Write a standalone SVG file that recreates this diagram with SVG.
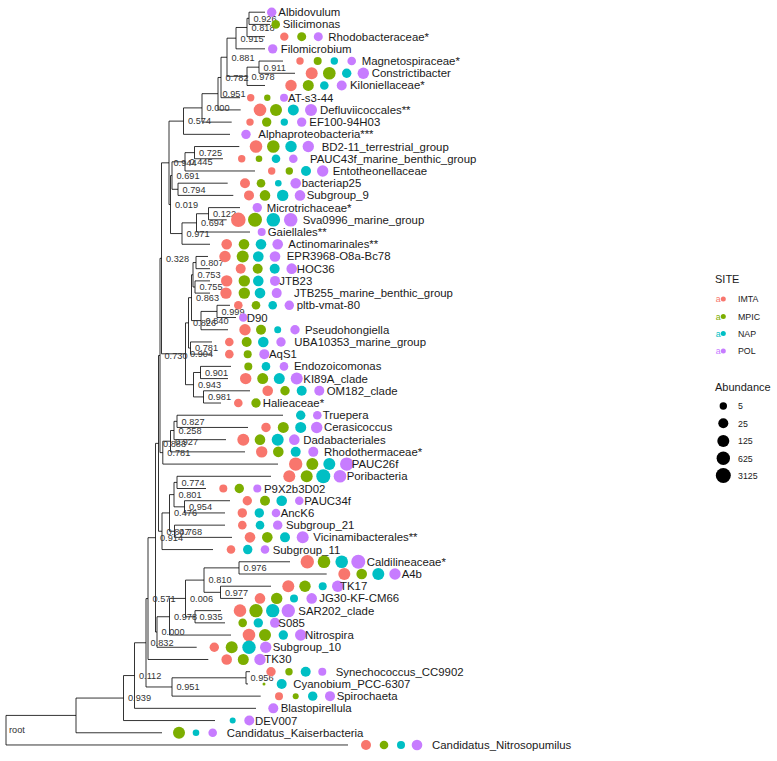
<svg xmlns="http://www.w3.org/2000/svg" width="777" height="761" viewBox="0 0 777 761">
<style>
text{font-family:"Liberation Sans",Arial,sans-serif}
.tl{font-size:11.4px;fill:#1a1a1a}
.nl{font-size:9.2px;fill:#333}
.lg{font-size:8.8px;fill:#1a1a1a}
.lt{font-size:11px;fill:#1a1a1a}
.i{fill:#F8766D}.m{fill:#7CAE00}.n{fill:#00BFC4}.p{fill:#C77CFF}
.k{fill:#000}
#connectors path{fill:none;stroke:#000;stroke-width:0.8}
</style>
<rect width="777" height="761" fill="#fff"/>
<g id="connectors">
<path d="M265 12.2H249V24.41H270 M249 18.3H247V36.63H265 M247 27.47H236V48.84H265 M283 61.05H259V73.27H295 M259 67.16H247V85.48H265 M236 38.16H227V76.32H247 M227 57.24H221V97.69H240 M221 77.47H218V109.9H240.7 M218 93.68H202V122.12H231.7 M202 107.9H183.5V134.33H230 M239.3 146.54H194.5V158.76H223 M194.5 152.65H185V170.97H255 M227.7 183.18H178V195.4H233.3 M185 161.81H172V189.29H178 M240 207.61H208.5V219.82H226.7 M208.5 213.72H196.5V232.03H250 M196.5 222.87H182V244.25H210 M172 175.55H170.5V233.56H182 M183.5 121.12H169V204.56H170.5 M208 256.46H196V268.67H210 M210 280.89H195V293.1H210 M196 262.57H193V287H195 M230 305.31H217V317.53H236 M217 311.42H201V329.74H228 M193 274.78H191.5V320.58H201 M212 341.95H190.5V354.16H212 M191.5 297.68H188.5V348.06H190.5 M231 366.38H200.5V378.59H228 M250 390.8H203.5V403.02H221 M200.5 372.49H193.5V396.91H203.5 M188.5 322.87H185.5V384.7H193.5 M169 162.84H161.5V353.79H185.5 M283 415.23H177V427.44H248 M177 421.34H174V439.66H226 M174 430.5H170.5V451.87H245 M170.5 441.19H162.8V464.08H278 M161.5 258.31H160V452.63H162.8 M271 476.29H177V488.51H206 M230 500.72H184.5V512.93H225 M177 482.4H174V506.83H184.5 M225 525.15H174.5V537.36H232 M174 494.61H169.5V531.26H174.5 M169.5 512.93H162V549.57H213 M160 355.47H158.5V531.25H162 M290 561.78H239V574H326.7 M271 586.21H220.5V598.42H243 M239 567.89H204V592.32H220.5 M221 610.64H195V622.85H225 M204 580.1H185.5V616.74H195 M185.5 598.42H169.5V635.06H231 M169.5 616.74H157V647.28H196.7 M158.5 443.36H155.5V632.01H157 M155.5 537.69H148V659.49H208.3 M250 671.7H246V683.92H248 M246 677.81H172V696.13H260.7 M148 598.59H146V686.97H172 M146 642.78H134.5V708.34H256 M134.5 675.56H123.5V720.55H215 M123.5 698.06H76V732.77H162 M76 715.41H6V744.98H348"/>
</g>
<g id="node-labels">
<text id="nl-root" class="nl" x="9" y="733.3">root</text>
<text id="nl1" class="nl" x="253.5" y="21.6">0.926</text>
<text id="nl2" class="nl" x="251.5" y="30.8">0.818</text>
<text id="nl3" class="nl" x="240.5" y="41.5">0.915</text>
<text id="nl4" class="nl" x="263.5" y="70.5">0.911</text>
<text id="nl5" class="nl" x="251.5" y="79.6">0.978</text>
<text id="nl6" class="nl" x="231.5" y="60.5">0.881</text>
<text id="nl7" class="nl" x="225.5" y="80.8">0.782</text>
<text id="nl8" class="nl" x="222.5" y="97">0.951</text>
<text id="nl9" class="nl" x="206.5" y="111.2">0.000</text>
<text id="nl10" class="nl" x="188" y="124.4">0.574</text>
<text id="nl11" class="nl" x="199" y="156">0.725</text>
<text id="nl12" class="nl" x="189.5" y="165.1">0.445</text>
<text id="nl13" class="nl" x="182.5" y="192.6">0.794</text>
<text id="nl14" class="nl" x="176.5" y="178.9">0.691</text>
<text id="nl15" class="nl" x="213" y="217">0.122</text>
<text id="nl16" class="nl" x="201" y="226.2">0.694</text>
<text id="nl17" class="nl" x="186.5" y="236.9">0.971</text>
<text id="nl18" class="nl" x="175" y="207.9">0.019</text>
<text id="nl19" class="nl" x="173.5" y="166.1">0.944</text>
<text id="nl20" class="nl" x="200.5" y="265.9">0.807</text>
<text id="nl21" class="nl" x="199.5" y="290.3">0.755</text>
<text id="nl22" class="nl" x="197.5" y="278.1">0.753</text>
<text id="nl23" class="nl" x="221.5" y="314.7">0.999</text>
<text id="nl24" class="nl" x="205.5" y="323.9">0.840</text>
<text id="nl25" class="nl" x="196" y="301">0.863</text>
<text id="nl26" class="nl" x="195" y="351.4">0.781</text>
<text id="nl27" class="nl" x="193" y="326.2">0.826</text>
<text id="nl28" class="nl" x="205" y="375.8">0.901</text>
<text id="nl29" class="nl" x="208" y="400.2">0.981</text>
<text id="nl30" class="nl" x="198" y="388">0.943</text>
<text id="nl31" class="nl" x="190" y="357.1">0.904</text>
<text id="nl32" class="nl" x="166" y="261.6">0.328</text>
<text id="nl33" class="nl" x="181.5" y="424.6">0.827</text>
<text id="nl34" class="nl" x="178.5" y="433.8">0.258</text>
<text id="nl35" class="nl" x="175" y="444.5">0.927</text>
<text id="nl36" class="nl" x="167.3" y="455.9">0.781</text>
<text id="nl37" class="nl" x="164.5" y="358.8">0.730</text>
<text id="nl38" class="nl" x="181.5" y="485.7">0.774</text>
<text id="nl39" class="nl" x="189" y="510.1">0.954</text>
<text id="nl40" class="nl" x="178.5" y="497.9">0.801</text>
<text id="nl41" class="nl" x="179" y="534.6">0.768</text>
<text id="nl42" class="nl" x="174" y="516.2">0.476</text>
<text id="nl43" class="nl" x="166.5" y="534.6">0.847</text>
<text id="nl44" class="nl" x="163" y="446.7">0.888</text>
<text id="nl45" class="nl" x="243.5" y="571.2">0.976</text>
<text id="nl46" class="nl" x="225" y="595.6">0.977</text>
<text id="nl47" class="nl" x="208.5" y="583.4">0.810</text>
<text id="nl48" class="nl" x="199.5" y="620">0.935</text>
<text id="nl49" class="nl" x="190" y="601.7">0.006</text>
<text id="nl50" class="nl" x="174" y="620">0.978</text>
<text id="nl51" class="nl" x="161.5" y="635.3">0.000</text>
<text id="nl52" class="nl" x="160" y="541">0.914</text>
<text id="nl53" class="nl" x="152.5" y="601.9">0.571</text>
<text id="nl54" class="nl" x="250.5" y="681.1">0.956</text>
<text id="nl55" class="nl" x="176.5" y="690.3">0.951</text>
<text id="nl56" class="nl" x="150.5" y="646.1">0.832</text>
<text id="nl57" class="nl" x="139" y="678.9">0.112</text>
<text id="nl58" class="nl" x="128" y="701.4">0.939</text>
</g>
<g id="tip-Albidovulum" transform="translate(0,12.2)"><circle class="p" cx="271.7" r="4.7"/><text class="tl" x="278.3" y="4">Albidovulum</text></g>
<g id="tip-Silicimonas" transform="translate(0,24.41)"><circle class="m" cx="275.7" r="4.3"/><text class="tl" x="282.7" y="4">Silicimonas</text></g>
<g id="tip-Rhodobacteraceae" transform="translate(0,36.63)"><circle class="i" cx="284.3" r="4.2"/><circle class="m" cx="301.7" r="4.5"/><circle class="p" cx="318.3" r="4.5"/><text class="tl" x="328.3" y="4">Rhodobacteraceae*</text></g>
<g id="tip-Filomicrobium" transform="translate(0,48.84)"><circle class="p" cx="272.7" r="4.7"/><text class="tl" x="280.7" y="4">Filomicrobium</text></g>
<g id="tip-Magnetospiraceae" transform="translate(0,61.05)"><circle class="i" cx="300" r="3.7"/><circle class="m" cx="317.7" r="4"/><circle class="n" cx="334.3" r="3.7"/><circle class="p" cx="351.7" r="4.3"/><text class="tl" x="361.7" y="4">Magnetospiraceae*</text></g>
<g id="tip-Constrictibacter" transform="translate(0,73.27)"><circle class="i" cx="311.7" r="6"/><circle class="m" cx="329.3" r="6.3"/><circle class="n" cx="346.7" r="4.7"/><circle class="p" cx="363.3" r="5.7"/><text class="tl" x="371.7" y="4">Constrictibacter</text></g>
<g id="tip-Kiloniellaceae" transform="translate(0,85.48)"><circle class="i" cx="291" r="5.7"/><circle class="m" cx="308.3" r="5.5"/><circle class="n" cx="324.3" r="4.3"/><circle class="p" cx="341.7" r="5"/><text class="tl" x="350" y="4">Kiloniellaceae*</text></g>
<g id="tip-AT-s3-44" transform="translate(0,97.69)"><circle class="i" cx="250.7" r="3.7"/><circle class="m" cx="267.3" r="3.2"/><circle class="p" cx="284" r="4"/><text class="tl" x="288" y="4">AT-s3-44</text></g>
<g id="tip-Defluviicoccales" transform="translate(0,109.9)"><circle class="i" cx="260" r="6.3"/><circle class="m" cx="276" r="6"/><circle class="n" cx="293.3" r="5.5"/><circle class="p" cx="311" r="6"/><text class="tl" x="320" y="4">Defluviicoccales**</text></g>
<g id="tip-EF100-94H03" transform="translate(0,122.12)"><circle class="i" cx="250" r="3.7"/><circle class="m" cx="266.7" r="4.7"/><circle class="n" cx="284.3" r="3.7"/><circle class="p" cx="301.7" r="4.7"/><text class="tl" x="309.3" y="4">EF100-94H03</text></g>
<g id="tip-Alphaproteobacteria" transform="translate(0,134.33)"><circle class="p" cx="246" r="4.7"/><text class="tl" x="258.3" y="4">Alphaproteobacteria***</text></g>
<g id="tip-BD2-11" transform="translate(0,146.54)"><circle class="i" cx="256" r="6.3"/><circle class="m" cx="273.3" r="6.3"/><circle class="n" cx="291" r="5.7"/><circle class="p" cx="308.3" r="5.7"/><text class="tl" x="321.7" y="4">BD2-11_terrestrial_group</text></g>
<g id="tip-PAUC43f" transform="translate(0,158.76)"><circle class="i" cx="241.7" r="3.7"/><circle class="m" cx="259" r="3.3"/><circle class="n" cx="276" r="4.3"/><circle class="p" cx="293.3" r="4.3"/><text class="tl" x="310" y="4">PAUC43f_marine_benthic_group</text></g>
<g id="tip-Entotheonellaceae" transform="translate(0,170.97)"><circle class="i" cx="271.7" r="3.7"/><circle class="m" cx="289.3" r="3.7"/><circle class="n" cx="306" r="5"/><circle class="p" cx="322.7" r="5.7"/><text class="tl" x="332.7" y="4">Entotheonellaceae</text></g>
<g id="tip-bacteriap25" transform="translate(0,183.18)"><circle class="i" cx="245" r="5"/><circle class="m" cx="261" r="4.3"/><circle class="n" cx="278.3" r="3.3"/><circle class="p" cx="295.7" r="5.3"/><text class="tl" x="301.7" y="4">bacteriap25</text></g>
<g id="tip-Subgroup_9" transform="translate(0,195.4)"><circle class="i" cx="249" r="5"/><circle class="m" cx="265" r="5.3"/><circle class="n" cx="282.7" r="5.7"/><circle class="p" cx="300" r="5.3"/><text class="tl" x="306.7" y="4">Subgroup_9</text></g>
<g id="tip-Microtrichaceae" transform="translate(0,207.61)"><circle class="p" cx="257.3" r="4.7"/><text class="tl" x="266.7" y="4">Microtrichaceae*</text></g>
<g id="tip-Sva0996" transform="translate(0,219.82)"><circle class="i" cx="238.3" r="7.3"/><circle class="m" cx="255" r="7"/><circle class="n" cx="273.3" r="6.8"/><circle class="p" cx="290.7" r="6.8"/><text class="tl" x="302.7" y="4">Sva0996_marine_group</text></g>
<g id="tip-Gaiellales" transform="translate(0,232.03)"><circle class="p" cx="261.7" r="4"/><text class="tl" x="267.7" y="4">Gaiellales**</text></g>
<g id="tip-Actinomarinales" transform="translate(0,244.25)"><circle class="i" cx="226.7" r="5.3"/><circle class="m" cx="244" r="5.3"/><circle class="n" cx="261" r="5.3"/><circle class="p" cx="277.7" r="5.3"/><text class="tl" x="288.3" y="4">Actinomarinales**</text></g>
<g id="tip-EPR3968" transform="translate(0,256.46)"><circle class="i" cx="225" r="5.7"/><circle class="m" cx="242.7" r="6"/><circle class="n" cx="258.3" r="5.3"/><circle class="p" cx="275" r="5.3"/><text class="tl" x="286.7" y="4">EPR3968-O8a-Bc78</text></g>
<g id="tip-HOC36" transform="translate(0,268.67)"><circle class="i" cx="240.7" r="5"/><circle class="m" cx="257.7" r="5"/><circle class="n" cx="274.7" r="5"/><circle class="p" cx="291.7" r="5.3"/><text class="tl" x="296.7" y="4">HOC36</text></g>
<g id="tip-JTB23" transform="translate(0,280.89)"><circle class="i" cx="226.7" r="5.7"/><circle class="m" cx="244.3" r="5.7"/><circle class="n" cx="258.3" r="5.3"/><circle class="p" cx="275" r="5"/><text class="tl" x="279.3" y="4">JTB23</text></g>
<g id="tip-JTB255" transform="translate(0,293.1)"><circle class="i" cx="226" r="5.7"/><circle class="m" cx="244.3" r="5.7"/><circle class="n" cx="260" r="5.3"/><circle class="p" cx="276.7" r="5"/><text class="tl" x="294" y="4">JTB255_marine_benthic_group</text></g>
<g id="tip-pltb-vmat-80" transform="translate(0,305.31)"><circle class="i" cx="238.3" r="4.3"/><circle class="m" cx="256" r="4.3"/><circle class="n" cx="272.7" r="4.3"/><circle class="p" cx="289.3" r="4.7"/><text class="tl" x="296.7" y="4">pltb-vmat-80</text></g>
<g id="tip-D90" transform="translate(0,317.53)"><circle class="p" cx="243.3" r="4.3"/><text class="tl" x="246.7" y="4">D90</text></g>
<g id="tip-Pseudohongiella" transform="translate(0,329.74)"><circle class="i" cx="245" r="5.7"/><circle class="m" cx="261" r="5"/><circle class="n" cx="277.7" r="3.5"/><circle class="p" cx="295" r="4.7"/><text class="tl" x="305" y="4">Pseudohongiella</text></g>
<g id="tip-UBA10353" transform="translate(0,341.95)"><circle class="i" cx="229.3" r="4.3"/><circle class="m" cx="246.7" r="5"/><circle class="n" cx="263.3" r="5.3"/><circle class="p" cx="281" r="4.7"/><text class="tl" x="294.3" y="4">UBA10353_marine_group</text></g>
<g id="tip-AqS1" transform="translate(0,354.16)"><circle class="i" cx="229.3" r="4.3"/><circle class="m" cx="247.7" r="4"/><circle class="p" cx="264.3" r="5"/><text class="tl" x="269" y="4">AqS1</text></g>
<g id="tip-Endozoicomonas" transform="translate(0,366.38)"><circle class="m" cx="248.3" r="4"/><circle class="n" cx="266" r="4.3"/><circle class="p" cx="284" r="4.3"/><text class="tl" x="294" y="4">Endozoicomonas</text></g>
<g id="tip-KI89A" transform="translate(0,378.59)"><circle class="i" cx="245.7" r="5.7"/><circle class="m" cx="262.7" r="5.5"/><circle class="n" cx="279.3" r="5.5"/><circle class="p" cx="296.7" r="6"/><text class="tl" x="303.3" y="4">KI89A_clade</text></g>
<g id="tip-OM182" transform="translate(0,390.8)"><circle class="i" cx="267.7" r="5.3"/><circle class="m" cx="285" r="4.7"/><circle class="n" cx="301.7" r="5"/><circle class="p" cx="319.3" r="5"/><text class="tl" x="326.7" y="4">OM182_clade</text></g>
<g id="tip-Halieaceae" transform="translate(0,403.02)"><circle class="i" cx="238.3" r="4.3"/><circle class="m" cx="256" r="4.7"/><text class="tl" x="262.7" y="4">Halieaceae*</text></g>
<g id="tip-Truepera" transform="translate(0,415.23)"><circle class="n" cx="300.7" r="4.7"/><circle class="p" cx="317.3" r="4.3"/><text class="tl" x="322.7" y="4">Truepera</text></g>
<g id="tip-Cerasicoccus" transform="translate(0,427.44)"><circle class="i" cx="266" r="4.7"/><circle class="m" cx="283.3" r="5.5"/><circle class="n" cx="300.7" r="5.5"/><circle class="p" cx="316.7" r="5.7"/><text class="tl" x="324" y="4">Cerasicoccus</text></g>
<g id="tip-Dadabacteriales" transform="translate(0,439.66)"><circle class="i" cx="243.3" r="6"/><circle class="m" cx="260" r="5.3"/><circle class="n" cx="277.7" r="6"/><circle class="p" cx="294.3" r="5.3"/><text class="tl" x="303.3" y="4">Dadabacteriales</text></g>
<g id="tip-Rhodothermaceae" transform="translate(0,451.87)"><circle class="i" cx="261.7" r="5.7"/><circle class="m" cx="278.3" r="5.3"/><circle class="n" cx="295.7" r="5"/><circle class="p" cx="313.3" r="5"/><text class="tl" x="324" y="4">Rhodothermaceae*</text></g>
<g id="tip-PAUC26f" transform="translate(0,464.08)"><circle class="i" cx="295.7" r="6.7"/><circle class="m" cx="312.3" r="6"/><circle class="n" cx="329.3" r="6"/><circle class="p" cx="346.7" r="6.7"/><text class="tl" x="351.7" y="4">PAUC26f</text></g>
<g id="tip-Poribacteria" transform="translate(0,476.29)"><circle class="i" cx="289.3" r="6"/><circle class="m" cx="306.7" r="6"/><circle class="n" cx="323.3" r="7"/><circle class="p" cx="340" r="6.3"/><text class="tl" x="346.7" y="4">Poribacteria</text></g>
<g id="tip-P9X2b3D02" transform="translate(0,488.51)"><circle class="i" cx="223.3" r="4"/><circle class="m" cx="239.3" r="4.7"/><circle class="p" cx="257.3" r="4"/><text class="tl" x="264" y="4">P9X2b3D02</text></g>
<g id="tip-PAUC34f" transform="translate(0,500.72)"><circle class="i" cx="247.3" r="4.7"/><circle class="m" cx="265" r="5"/><circle class="n" cx="281.7" r="5.3"/><circle class="p" cx="299.3" r="4.3"/><text class="tl" x="304.3" y="4">PAUC34f</text></g>
<g id="tip-AncK6" transform="translate(0,512.93)"><circle class="i" cx="242.3" r="4.7"/><circle class="n" cx="259.3" r="4.7"/><circle class="p" cx="276" r="4.3"/><text class="tl" x="280.7" y="4">AncK6</text></g>
<g id="tip-Subgroup_21" transform="translate(0,525.15)"><circle class="i" cx="242.3" r="4.3"/><circle class="n" cx="260" r="4.3"/><circle class="p" cx="277.7" r="4.7"/><text class="tl" x="286" y="4">Subgroup_21</text></g>
<g id="tip-Vicinamibacterales" transform="translate(0,537.36)"><circle class="i" cx="250" r="5.3"/><circle class="m" cx="267.3" r="5.3"/><circle class="n" cx="285" r="5"/><circle class="p" cx="302.7" r="6"/><text class="tl" x="313.3" y="4">Vicinamibacterales**</text></g>
<g id="tip-Subgroup_11" transform="translate(0,549.57)"><circle class="i" cx="231" r="4.3"/><circle class="n" cx="247.7" r="4.7"/><circle class="p" cx="265" r="4.3"/><text class="tl" x="272.7" y="4">Subgroup_11</text></g>
<g id="tip-Caldilineaceae" transform="translate(0,561.78)"><circle class="i" cx="307.3" r="6.7"/><circle class="m" cx="324" r="6.3"/><circle class="n" cx="341.7" r="6.3"/><circle class="p" cx="358.3" r="7"/><text class="tl" x="366.7" y="4">Caldilineaceae*</text></g>
<g id="tip-A4b" transform="translate(0,574)"><circle class="i" cx="344.3" r="6"/><circle class="m" cx="361.7" r="5.3"/><circle class="n" cx="378.3" r="6"/><circle class="p" cx="395" r="5.7"/><text class="tl" x="401.7" y="4">A4b</text></g>
<g id="tip-TK17" transform="translate(0,586.21)"><circle class="i" cx="288.3" r="6"/><circle class="m" cx="305" r="5.7"/><circle class="n" cx="322.7" r="4"/><circle class="p" cx="337.7" r="5.7"/><text class="tl" x="340" y="4">TK17</text></g>
<g id="tip-JG30-KF-CM66" transform="translate(0,598.42)"><circle class="i" cx="260" r="5.3"/><circle class="m" cx="276.7" r="5.7"/><circle class="n" cx="294" r="4"/><circle class="p" cx="311.7" r="5.3"/><text class="tl" x="319.3" y="4">JG30-KF-CM66</text></g>
<g id="tip-SAR202" transform="translate(0,610.64)"><circle class="i" cx="240" r="6.3"/><circle class="m" cx="256" r="6.7"/><circle class="n" cx="272.7" r="6.7"/><circle class="p" cx="288.3" r="6.7"/><text class="tl" x="298.3" y="4">SAR202_clade</text></g>
<g id="tip-S085" transform="translate(0,622.85)"><circle class="m" cx="242.7" r="4.3"/><circle class="n" cx="258.3" r="4.7"/><circle class="p" cx="275" r="5"/><text class="tl" x="278.3" y="4">S085</text></g>
<g id="tip-Nitrospira" transform="translate(0,635.06)"><circle class="i" cx="249" r="6.3"/><circle class="m" cx="265" r="6"/><circle class="n" cx="283.3" r="4.7"/><circle class="p" cx="300.7" r="5.7"/><text class="tl" x="305" y="4">Nitrospira</text></g>
<g id="tip-Subgroup_10" transform="translate(0,647.28)"><circle class="i" cx="214.3" r="4.7"/><circle class="m" cx="231.7" r="6"/><circle class="n" cx="249" r="6.7"/><circle class="p" cx="265.7" r="5.7"/><text class="tl" x="272.7" y="4">Subgroup_10</text></g>
<g id="tip-TK30" transform="translate(0,659.49)"><circle class="i" cx="226.7" r="5.3"/><circle class="m" cx="243.3" r="5.5"/><circle class="p" cx="260" r="5.7"/><text class="tl" x="264.3" y="4">TK30</text></g>
<g id="tip-Synechococcus" transform="translate(0,671.7)"><circle class="i" cx="271" r="4.7"/><circle class="m" cx="289" r="3.7"/><circle class="n" cx="305.7" r="5"/><circle class="p" cx="322.3" r="4"/><text class="tl" x="335.7" y="4">Synechococcus_CC9902</text></g>
<g id="tip-Cyanobium" transform="translate(0,683.92)"><circle class="m" cx="264" r="1.5"/><circle class="n" cx="281.7" r="5"/><text class="tl" x="293.3" y="4">Cyanobium_PCC-6307</text></g>
<g id="tip-Spirochaeta" transform="translate(0,696.13)"><circle class="i" cx="279" r="4"/><circle class="m" cx="295.7" r="3"/><circle class="n" cx="312.7" r="4.7"/><circle class="p" cx="330" r="5"/><text class="tl" x="336.7" y="4">Spirochaeta</text></g>
<g id="tip-Blastopirellula" transform="translate(0,708.34)"><circle class="p" cx="273.3" r="5"/><text class="tl" x="280.7" y="4">Blastopirellula</text></g>
<g id="tip-DEV007" transform="translate(0,720.55)"><circle class="n" cx="232.7" r="3"/><circle class="p" cx="249.3" r="5"/><text class="tl" x="255" y="4">DEV007</text></g>
<g id="tip-Kaiserbacteria" transform="translate(0,732.77)"><circle class="m" cx="179" r="6"/><circle class="n" cx="196" r="3.3"/><circle class="p" cx="212.7" r="4.3"/><text class="tl" x="226.7" y="4">Candidatus_Kaiserbacteria</text></g>
<g id="tip-Nitrosopumilus" transform="translate(0,744.98)"><circle class="i" cx="366" r="5"/><circle class="m" cx="384" r="4.3"/><circle class="n" cx="401" r="4"/><circle class="p" cx="417" r="5.3"/><text class="tl" x="432" y="4">Candidatus_Nitrosopumilus</text></g>
<g id="legend-site">
<text class="lt" x="715" y="283">SITE</text>
<g transform="translate(0,299)"><text class="lg" x="715.7" y="3" fill="#F8766D" style="fill:#F8766D">a</text><circle class="i" cx="723.3" r="2.5"/><text class="lg" x="738" y="3.2">IMTA</text></g>
<g transform="translate(0,316.5)"><text class="lg" x="715.7" y="3" style="fill:#7CAE00">a</text><circle class="m" cx="723.3" r="2.5"/><text class="lg" x="738" y="3.2">MPIC</text></g>
<g transform="translate(0,333.5)"><text class="lg" x="715.7" y="3" style="fill:#00BFC4">a</text><circle class="n" cx="723.3" r="2.5"/><text class="lg" x="738" y="3.2">NAP</text></g>
<g transform="translate(0,351)"><text class="lg" x="715.7" y="3" style="fill:#C77CFF">a</text><circle class="p" cx="723.3" r="2.5"/><text class="lg" x="738" y="3.2">POL</text></g>
</g>
<g id="legend-abundance">
<text class="lt" x="715" y="391">Abundance</text>
<g transform="translate(0,406)"><circle class="k" cx="723.3" r="3.7"/><text class="lg" x="738" y="3.2">5</text></g>
<g transform="translate(0,423.3)"><circle class="k" cx="723.3" r="5"/><text class="lg" x="738" y="3.2">25</text></g>
<g transform="translate(0,441)"><circle class="k" cx="723.3" r="6"/><text class="lg" x="738" y="3.2">125</text></g>
<g transform="translate(0,458.3)"><circle class="k" cx="723.3" r="6.7"/><text class="lg" x="738" y="3.2">625</text></g>
<g transform="translate(0,475.5)"><circle class="k" cx="723.3" r="7.5"/><text class="lg" x="738" y="3.2">3125</text></g>
</g>
</svg>
